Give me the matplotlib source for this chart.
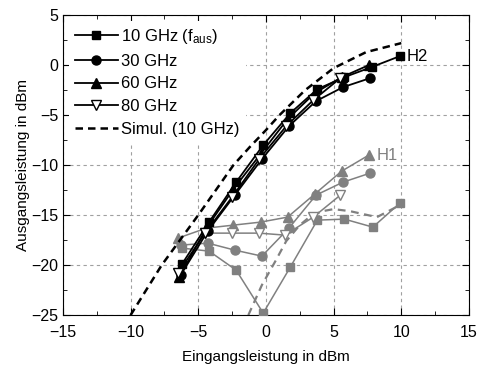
import numpy as np
import matplotlib
matplotlib.use("Agg")
import matplotlib.pyplot as plt
from matplotlib.ticker import MultipleLocator

plt.rcParams['font.family'] = ['Liberation Sans', 'DejaVu Sans']
plt.rcParams['mathtext.fontset'] = 'custom'
plt.rcParams['mathtext.rm'] = 'Liberation Sans'
plt.rcParams['mathtext.it'] = 'Liberation Sans'

# H2 (Grundwelle) Messungen
x10 = [-6.2, -4.2, -2.2, -0.2, 1.8, 3.8, 5.8, 7.8, 9.9]
y10 = [-19.9, -15.7, -11.7, -8.0, -4.8, -2.4, -1.2, -0.2, 0.9]
x30 = [-6.3, -4.3, -2.3, -0.3, 1.7, 3.7, 5.7, 7.7]
y30 = [-21.0, -16.6, -13.0, -9.4, -6.1, -3.6, -2.2, -1.3]
x60 = [-6.4, -4.4, -2.4, -0.4, 1.6, 3.6, 5.6, 7.6]
y60 = [-21.2, -16.3, -12.4, -8.9, -5.4, -2.8, -1.2, 0.0]
x80 = [-6.5, -4.5, -2.5, -0.5, 1.5, 3.5, 5.5]
y80 = [-20.8, -16.8, -13.2, -9.4, -6.1, -3.5, -1.3]

# Simulation 10 GHz
xsim = [-10, -7.7, -5.0, -2.4, -1.2, 0.0, 1.0, 2.9, 5.0, 7.4, 10]
ysim = [-25, -20, -15, -10, -8.2, -6.5, -5.0, -2.5, -0.3, 1.3, 2.2]

# H1
h1_x10 = [-6.2, -4.2, -2.2, -0.2, 1.8, 3.8, 5.8, 7.9, 9.9]
h1_y10 = [-18.3, -18.6, -20.5, -24.8, -20.2, -15.5, -15.4, -16.2, -13.8]
h1_x30 = [-6.3, -4.3, -2.3, -0.3, 1.7, 3.7, 5.7, 7.7]
h1_y30 = [-18.0, -17.8, -18.5, -19.1, -16.3, -13.0, -11.7, -10.8]
h1_x60 = [-6.5, -4.4, -2.4, -0.4, 1.6, 3.6, 5.6, 7.6]
h1_y60 = [-17.3, -16.3, -16.0, -15.7, -15.2, -12.9, -10.6, -9.0]
h1_x80 = [-4.5, -2.5, -0.5, 1.4, 3.5, 5.5]
h1_y80 = [-16.8, -16.8, -16.8, -17.0, -15.2, -13.0]
h1_xsim = [-1.3, -0.3, 0.7, 1.5, 2.5, 3.3, 4.2, 5.0, 6.2, 7.2, 8.2, 9.9]
h1_ysim = [-25, -22, -19.6, -17.6, -16.0, -15.1, -14.6, -14.4, -14.6, -14.9, -15.2, -14.0]

gray = '#808080'

fig = plt.figure(figsize=(4.8, 3.69), dpi=100)
ax = fig.add_axes([0.131, 0.146, 0.846, 0.813])

ax.grid(True, which='major', color='#a0a0a0', linestyle=(0, (3, 3)), linewidth=0.8)
ax.set_axisbelow(True)

# H1 curves
ax.plot(h1_xsim, h1_ysim, color=gray, ls=(0, (3.5, 2.5)), lw=1.6, zorder=2)
ax.plot(h1_x10, h1_y10, color=gray, marker='s', ms=6, lw=1.1, zorder=3)
ax.plot(h1_x30, h1_y30, color=gray, marker='o', ms=6.5, lw=1.1, zorder=3)
ax.plot(h1_x60, h1_y60, color=gray, marker='^', ms=7, lw=1.1, zorder=3)
ax.plot(h1_x80, h1_y80, color=gray, marker='v', ms=7, mfc='white', mec=gray, lw=1.1, zorder=3)

# H2 curves
ax.plot(x10, y10, color='k', marker='s', ms=6, lw=1.3, label=r'10 GHz (f$_\mathrm{aus}$)', zorder=5)
ax.plot(x30, y30, color='k', marker='o', ms=6.5, lw=1.3, label='30 GHz', zorder=5)
ax.plot(x60, y60, color='k', marker='^', ms=7, lw=1.3, label='60 GHz', zorder=5)
ax.plot(x80, y80, color='k', marker='v', ms=7, mfc='white', mec='k', lw=1.3, label='80 GHz', zorder=5)
ax.plot(xsim, ysim, color='k', ls=(0, (3, 2)), lw=1.8, label='Simul. (10 GHz)', zorder=4)

ax.text(10.4, 0.9, 'H2', color='k', fontsize=12, va='center', ha='left')
ax.text(8.2, -9.0, 'H1', color=gray, fontsize=12, va='center', ha='left')

ax.set_xlim(-15, 15)
ax.set_ylim(-25, 5)
ax.xaxis.set_major_locator(MultipleLocator(5))
ax.xaxis.set_minor_locator(MultipleLocator(2.5))
ax.yaxis.set_major_locator(MultipleLocator(5))
ax.yaxis.set_minor_locator(MultipleLocator(2.5))
ax.tick_params(which='both', direction='in', top=True, right=True, labelsize=11.5)
ax.tick_params(axis='x', which='major', pad=7)
ax.tick_params(which='major', length=5)
ax.tick_params(which='minor', length=3)

ax.set_xlabel('Eingangsleistung in dBm', fontsize=11, labelpad=7)
ax.set_ylabel('Ausgangsleistung in dBm', fontsize=11, labelpad=1)

leg = ax.legend(loc='upper left', frameon=True, fontsize=12, handlelength=2.6,
                borderaxespad=0.35, labelspacing=0.47, handletextpad=0.2,
                borderpad=0.35)
leg.get_frame().set_edgecolor('none')
leg.get_frame().set_facecolor('white')
leg.get_frame().set_alpha(1)
leg.set_zorder(6)

fig.savefig('out.png', dpi=100)
